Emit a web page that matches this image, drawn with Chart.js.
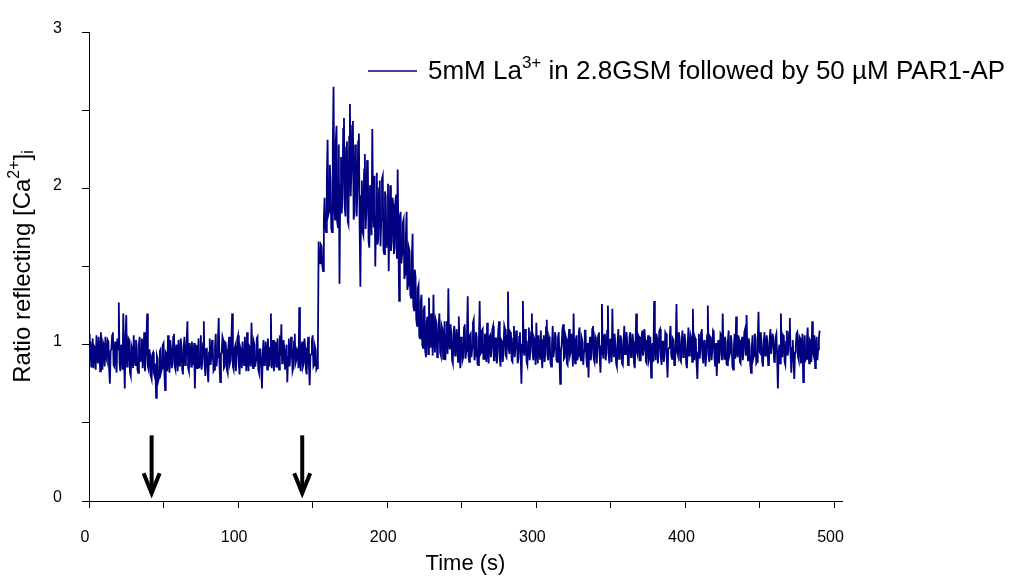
<!DOCTYPE html>
<html>
<head>
<meta charset="utf-8">
<title>Ratio reflecting [Ca2+]i</title>
<script src="https://cdn.jsdelivr.net/npm/chart.js"></script>
<style>
  html, body { margin: 0; padding: 0; background: #fff; }
  canvas { display: block; }
</style>
</head>
<body>
<canvas id="grafica" width="1023" height="577"></canvas>
<script>
// sampling of the trace (two readings per second)
const sampleStart = 0;
const sampleStep = 0.5;

// 0 - 153.5 s : 5mM La3+ in 2.8GSM, resting level (20 readings per row = 10 s)
const baselineRatio = [
  1.07, 0.90, 1.02, 0.86, 0.93, 1.04, 0.85, 0.99, 0.98, 0.84, 1.06, 0.92, 0.88, 1.05, 0.96, 0.83, 1.08, 0.95, 0.84, 1.01,
  0.99, 0.86, 1.05, 0.92, 0.90, 1.03, 1.02, 0.85, 0.75, 0.96, 0.97, 1.06, 1.08, 0.87, 0.86, 1.02, 0.95, 0.82, 1.04, 0.97,
  1.27, 0.88, 0.83, 1.00, 0.95, 0.84, 1.20, 0.93, 0.72, 1.05, 1.19, 0.86, 0.88, 1.04, 1.03, 0.82, 0.80, 0.99, 0.97, 0.85,
  1.06, 0.91, 0.87, 1.03, 0.99, 0.84, 0.82, 1.01, 1.05, 0.89, 0.93, 1.04, 0.85, 0.92, 1.08, 0.83, 0.90, 1.02, 1.20, 0.86,
  0.84, 0.97, 0.93, 0.80, 0.78, 0.94, 0.95, 0.82, 0.80, 0.88, 0.66, 0.93, 0.91, 0.77, 0.79, 0.96, 0.97, 0.83, 0.85, 1.00,
  1.01, 0.84, 0.71, 0.95, 0.94, 0.83, 1.06, 0.90, 0.82, 1.03, 0.98, 0.85, 0.88, 1.05, 1.07, 0.86, 0.84, 1.00, 0.96, 0.83,
  1.03, 0.89, 0.86, 1.04, 0.99, 0.84, 0.81, 0.98, 1.05, 0.87, 0.90, 1.02, 1.15, 0.85, 0.83, 1.01, 0.97, 0.86, 1.02, 0.91,
  0.87, 1.01, 0.72, 0.93, 1.00, 0.85, 0.93, 1.04, 0.85, 0.90, 1.06, 0.84, 0.89, 1.01, 1.15, 0.88, 0.80, 0.97, 0.98, 0.84,
  0.76, 0.95, 1.04, 0.87, 0.91, 1.03, 0.99, 0.83, 0.84, 0.98, 1.07, 0.86, 0.92, 1.04, 1.17, 0.88, 0.76, 0.94, 0.95, 1.05,
  1.03, 0.85, 0.86, 1.02, 0.97, 0.84, 0.82, 0.99, 1.05, 0.88, 0.90, 1.03, 1.20, 0.86, 0.84, 0.97, 0.99, 0.83, 0.93, 1.04,
  1.06, 0.87, 0.81, 0.98, 0.96, 0.85, 1.02, 0.92, 0.87, 1.05, 0.94, 0.83, 1.08, 0.90, 0.83, 0.99, 0.98, 0.86, 1.14, 0.92,
  0.85, 1.02, 1.00, 0.86, 0.90, 1.04, 1.05, 0.84, 0.82, 0.97, 0.97, 0.85, 0.72, 0.93, 1.03, 0.87, 0.88, 1.02, 0.96, 0.84,
  1.04, 0.90, 0.86, 0.98, 1.20, 0.85, 0.91, 1.03, 0.83, 0.96, 1.02, 0.86, 0.95, 1.04, 0.87, 0.84, 1.06, 0.93, 1.13, 0.88,
  0.89, 1.03, 0.97, 0.84, 0.84, 1.00, 0.76, 0.92, 1.04, 0.86, 0.92, 1.05, 0.99, 0.83, 0.85, 1.02, 1.07, 0.88, 0.90, 0.97,
  0.96, 0.85, 1.24, 0.90, 0.83, 0.98, 1.02, 0.86, 0.88, 1.04, 0.98, 0.84, 0.81, 0.96, 1.05, 0.87, 0.74, 0.93, 0.94, 1.03,
  1.06, 0.86, 0.87, 0.99, 0.97, 0.84, 0.85, 0.96
];

// 154 - 224.5 s : response to 50 uM PAR1-AP
const responseRatio = [
  1.66, 1.55, 1.52, 1.64, 1.63, 1.50, 1.47, 1.80, 1.94, 1.76, 1.72, 2.05, 2.31, 1.83, 1.85, 2.15, 2.05, 1.74, 1.72, 2.25,
  2.65, 1.90, 1.80, 2.30, 2.40, 1.78, 1.75, 2.28, 1.39, 2.02, 2.20, 1.84, 1.95, 2.38, 2.45, 1.88, 1.82, 2.26, 2.30, 1.79,
  1.77, 2.33, 2.54, 1.95, 2.10, 2.40, 2.43, 1.80, 1.85, 2.28, 2.20, 1.82, 1.98, 2.30, 2.35, 1.76, 1.37, 1.95, 2.05, 1.72,
  1.70, 2.12, 2.22, 1.74, 1.85, 2.18, 2.15, 1.66, 1.62, 2.02, 1.98, 1.70, 2.38, 1.86, 1.75, 2.08, 1.50, 1.82, 2.10, 1.64,
  1.68, 2.00, 2.05, 1.63, 1.80, 2.06, 2.08, 1.60, 1.58, 1.98, 1.95, 1.62, 1.72, 2.03, 1.47, 1.76, 2.02, 1.60, 1.66, 1.94,
  1.90, 1.58, 1.62, 1.92, 1.96, 1.55, 2.12, 1.70, 1.28, 1.82, 1.85, 1.52, 1.58, 1.78, 1.80, 1.42, 1.45, 1.70, 1.85, 1.35,
  1.38, 1.62, 1.60, 1.32, 1.30, 1.55, 1.71, 1.25, 1.22, 1.48, 1.43, 1.16, 1.12, 1.36, 1.38, 1.05, 1.04, 1.28, 1.32, 1.00,
  0.98, 1.22
];

// 225 - 490 s : back to resting level
const recoveryRatio = [
  1.25, 0.96, 0.92, 1.15, 1.18, 0.94, 1.30, 1.02, 0.98, 1.20, 1.08, 0.93, 1.32, 1.05, 0.95, 1.16, 1.14, 0.92, 0.99, 1.12,
  1.20, 0.95, 0.93, 1.12, 1.10, 0.91, 1.01, 1.15, 0.90, 1.06, 1.15, 0.94, 1.36, 1.00, 0.97, 1.13, 1.06, 0.90, 0.88, 1.08,
  1.12, 0.93, 0.94, 1.10, 1.04, 0.89, 1.18, 0.97, 0.85, 1.05, 1.02, 0.90, 0.92, 1.11, 1.13, 0.91, 0.96, 1.07, 1.31, 0.93,
  0.89, 1.06, 1.07, 0.92, 0.98, 1.14, 1.16, 0.90, 0.93, 1.08, 1.05, 0.88, 0.87, 1.03, 1.28, 0.94, 0.95, 1.09, 1.10, 0.91,
  0.91, 1.07, 1.03, 0.89, 1.14, 0.98, 0.88, 1.05, 1.06, 0.92, 0.97, 1.10, 1.12, 0.90, 0.90, 1.04, 1.04, 0.88, 0.95, 1.09,
  1.15, 0.91, 0.86, 1.03, 1.02, 0.89, 0.96, 1.12, 1.10, 0.93, 0.92, 1.06, 1.34, 0.97, 0.94, 1.08, 1.07, 0.90, 0.89, 1.04,
  1.12, 0.92, 0.98, 1.09, 1.03, 0.88, 0.91, 1.05, 1.08, 0.94, 0.75, 1.00, 1.28, 0.96, 0.93, 1.10, 1.05, 0.89, 0.87, 1.02,
  1.11, 0.90, 0.96, 1.08, 1.20, 0.95, 0.90, 1.04, 1.02, 0.87, 1.14, 0.98, 0.88, 1.06, 0.99, 0.91, 1.09, 0.94, 0.85, 1.03,
  1.06, 0.89, 0.94, 1.11, 1.16, 0.93, 0.90, 1.05, 1.03, 0.88, 0.86, 1.00, 1.12, 0.92, 0.97, 1.08, 1.05, 0.90, 0.89, 1.04,
  1.08, 0.92, 0.75, 0.96, 1.00, 1.10, 1.13, 0.91, 0.92, 1.06, 1.04, 0.88, 0.87, 1.02, 1.10, 0.93, 0.95, 1.07, 1.01, 0.86,
  1.20, 0.94, 0.88, 1.03, 1.06, 0.90, 0.93, 1.08, 1.11, 0.92, 0.90, 1.04, 1.02, 0.87, 0.96, 1.09, 1.09, 0.93, 0.86, 1.01,
  0.79, 0.98, 1.05, 0.90, 0.94, 1.10, 1.12, 0.91, 0.89, 1.05, 1.03, 0.88, 0.97, 1.06, 1.08, 0.93, 0.82, 0.99, 1.26, 0.95,
  0.91, 1.06, 1.07, 0.90, 0.95, 1.09, 1.25, 0.94, 0.88, 1.03, 1.04, 0.89, 1.23, 0.97, 0.92, 1.07, 1.00, 0.88, 0.86, 1.02,
  1.10, 0.91, 0.93, 1.06, 1.03, 0.88, 0.87, 1.02, 1.12, 0.94, 0.96, 1.08, 1.01, 0.87, 0.89, 1.05, 1.08, 0.92, 0.94, 1.07,
  1.02, 0.88, 0.85, 1.00, 1.20, 0.95, 0.93, 1.06, 1.05, 0.90, 0.90, 1.03, 1.09, 0.93, 0.97, 1.10, 1.03, 0.89, 0.88, 1.01,
  1.06, 0.90, 0.92, 1.05, 0.79, 0.96, 1.01, 0.89, 1.28, 0.99, 0.90, 1.07, 1.04, 0.88, 0.95, 1.09, 1.10, 0.92, 0.87, 1.02,
  1.02, 0.89, 0.94, 1.08, 1.07, 0.91, 0.79, 0.97, 0.98, 1.06, 1.12, 0.93, 0.91, 1.04, 1.03, 0.87, 0.88, 1.01, 1.26, 0.95,
  0.93, 1.08, 1.05, 0.90, 0.89, 1.03, 1.09, 0.92, 0.96, 1.07, 1.01, 0.88, 0.85, 1.00, 1.11, 0.93, 0.94, 1.06, 1.04, 0.89,
  1.23, 0.96, 0.90, 1.04, 1.02, 0.87, 0.78, 0.95, 1.07, 0.91, 0.95, 1.08, 1.10, 0.92, 0.88, 1.03, 1.00, 0.86, 0.93, 1.06,
  1.25, 0.94, 0.89, 1.05, 1.04, 0.90, 0.96, 1.09, 1.08, 0.91, 0.86, 1.01, 0.80, 0.95, 1.03, 0.88, 0.94, 1.07, 1.06, 0.90,
  1.20, 0.97, 0.91, 1.05, 1.02, 0.88, 0.87, 1.03, 1.09, 0.93, 0.95, 1.06, 1.01, 0.86, 0.84, 0.99, 1.07, 0.91, 1.18, 0.96,
  0.92, 1.06, 1.03, 0.89, 0.88, 1.02, 1.05, 0.90, 0.96, 1.08, 1.10, 0.93, 1.19, 0.97, 0.90, 1.04, 0.99, 0.87, 0.82, 0.98,
  1.06, 0.91, 0.93, 1.07, 1.04, 0.88, 0.89, 1.03, 1.21, 0.96, 0.95, 1.08, 1.02, 0.89, 0.86, 1.01, 1.08, 0.93, 0.97, 1.06,
  1.01, 0.87, 0.88, 1.04, 1.10, 0.94, 0.94, 1.07, 1.03, 0.89, 0.90, 1.05, 1.07, 0.92, 0.72, 0.95, 1.00, 0.88, 1.20, 0.96,
  0.92, 1.06, 1.05, 0.89, 0.87, 1.02, 1.09, 0.93, 0.96, 1.08, 1.17, 0.94, 0.82, 0.98, 1.03, 0.89, 0.78, 0.95, 0.99, 1.07,
  1.08, 0.92, 0.90, 1.05, 1.04, 0.88, 0.94, 1.07, 0.76, 0.93, 1.06, 0.90, 0.91, 1.04, 1.11, 0.93, 0.88, 1.03, 1.02, 0.89,
  1.15, 0.95, 0.93, 1.06, 0.85, 0.97, 1.05, 0.90, 0.97, 1.04, 1.09
];

// additions marked with arrows (s) and arrow span in ratio units
const arrowTimes = [42, 143];
const arrowSpan = [0.42, 0.05];

// axis ticks
const xTickStep = 50;
const xLabelStep = 100;
const yTickStep = 0.5;

const seriesLabel = '5mM La3+ in 2.8GSM followed by 50 µM PAR1-AP';
// the same label split into normal / superscript pieces for drawing
const legendParts = [['5mM La', 0], ['3+', 1], [' in 2.8GSM followed by 50 µM PAR1-AP', 0]];
const yTitleParts = [['Ratio reflecting [Ca', 0], ['2+', 1], [']', 0], ['i', -1]];

const ratioValues = [...baselineRatio, ...responseRatio, ...recoveryRatio];
const puntos = ratioValues.map((v, i) => ({ x: sampleStart + i * sampleStep, y: v }));

const FONT = '"Liberation Sans", Arial, sans-serif';
const NAVY = '#000080';
Chart.defaults.font.family = FONT;
Chart.defaults.color = '#000';

// draw text made of normal / superscript / subscript parts
function drawParts(ctx, parts, x, y, size, align) {
  const small = Math.round(size * 0.65);
  const widths = parts.map(([t, k]) => {
    ctx.font = (k ? small : size) + 'px ' + FONT;
    return ctx.measureText(t).width;
  });
  const total = widths.reduce((a, b) => a + b, 0);
  let cx = align === 'center' ? x - total / 2 : x;
  parts.forEach(([t, k], i) => {
    ctx.font = (k ? small : size) + 'px ' + FONT;
    const dy = k === 1 ? -size * 0.33 : (k === -1 ? size * 0.25 : 0);
    ctx.fillText(t, cx, y + dy);
    cx += widths[i];
  });
}

const extras = {
  id: 'extras',
  afterDraw(chart) {
    const { ctx, scales: { x, y } } = chart;
    ctx.save();

    // arrows
    ctx.strokeStyle = '#000';
    ctx.lineWidth = 4;
    ctx.lineJoin = 'miter';
    arrowTimes.forEach(t => {
      const px = x.getPixelForValue(t);
      const top = y.getPixelForValue(arrowSpan[0]);
      const tip = y.getPixelForValue(arrowSpan[1]);
      ctx.beginPath();
      ctx.moveTo(px, top);
      ctx.lineTo(px, tip - 4);
      ctx.stroke();
      ctx.beginPath();
      ctx.moveTo(px - 8, tip - 20);
      ctx.lineTo(px, tip);
      ctx.lineTo(px + 8, tip - 20);
      ctx.stroke();
    });

    // legend
    ctx.strokeStyle = NAVY;
    ctx.lineWidth = 1.5;
    ctx.beginPath();
    ctx.moveTo(368, 71);
    ctx.lineTo(417, 71);
    ctx.stroke();
    ctx.fillStyle = '#000';
    ctx.textBaseline = 'middle';
    ctx.textAlign = 'left';
    drawParts(ctx, legendParts, 428, 72, 26, 'left');

    // y axis title
    ctx.translate(23, (chart.chartArea.top + chart.chartArea.bottom) / 2);
    ctx.rotate(-Math.PI / 2);
    drawParts(ctx, yTitleParts, 0, 0, 24, 'center');
    ctx.restore();
  }
};

const grafica = document.getElementById('grafica').getContext('2d');
const chart = new Chart(grafica, {
  type: 'line',
  data: {
    datasets: [{
      label: seriesLabel,
      data: puntos,
      borderColor: NAVY,
      borderWidth: 1.8,
      pointRadius: 0,
      tension: 0,
      fill: false
    }]
  },
  options: {
    responsive: false,
    animation: false,
    layout: { padding: { top: 32, right: 181, left: 0, bottom: 0 } },
    plugins: {
      legend: { display: false },
      tooltip: { enabled: false }
    },
    scales: {
      x: {
        type: 'linear',
        min: 0,
        max: 505,
        afterFit: s => { s.height = 76; },
        ticks: {
          stepSize: xTickStep,
          includeBounds: false,
          autoSkip: false,
          maxRotation: 0,
          padding: 20,
          labelOffset: -4,
          font: { size: 16 },
          callback: v => (v % xLabelStep === 0 ? v : '')
        },
        grid: { drawOnChartArea: false, drawTicks: true, tickLength: 7, color: '#000' },
        border: { color: '#000', width: 1 },
        title: { display: true, text: 'Time (s)', font: { size: 22 }, padding: { top: 0, bottom: 0 } }
      },
      y: {
        min: 0,
        max: 3,
        afterFit: s => { s.width = 89; },
        ticks: {
          stepSize: yTickStep,
          padding: 20,
          labelOffset: -3,
          font: { size: 16 },
          callback: v => (Number.isInteger(v) ? v : '')
        },
        grid: { drawOnChartArea: false, drawTicks: true, tickLength: 7, color: '#000' },
        border: { color: '#000', width: 1 }
      }
    }
  },
  plugins: [extras]
});
</script>
</body>
</html>
